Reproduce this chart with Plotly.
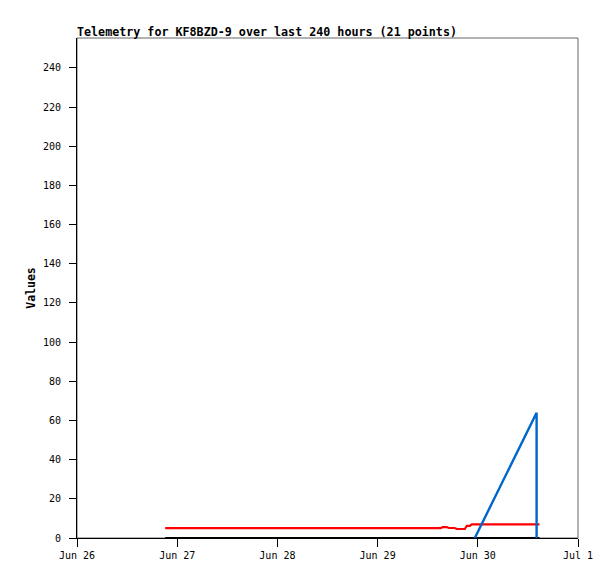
import plotly.graph_objects as go

# Series data (timestamps)
black_t = ["2024-06-26 21:07", "2024-06-30 14:46"]
black_v = [0, 0]

red_t = ["2024-06-26 21:07", "2024-06-29 15:07", "2024-06-29 15:36", "2024-06-29 16:34",
         "2024-06-29 17:02", "2024-06-29 18:29", "2024-06-29 18:58", "2024-06-29 20:53",
         "2024-06-29 21:22", "2024-06-29 22:05", "2024-06-29 22:34", "2024-06-30 14:46"]
red_v = [5, 5, 5.6, 5.6, 5.1, 5.1, 4.6, 4.6, 6.2, 6.2, 7, 7]

blue_t = ["2024-06-29 23:17", "2024-06-30 14:05", "2024-06-30 14:05"]
blue_v = [0, 64, 0]

y_ticks = list(range(0, 241, 20))
x_range = ["2024-06-26", "2024-07-01"]
title_text = "Telemetry for KF8BZD-9 over last 240 hours (21 points)"

W, H = 607, 571
fig = go.Figure()
fig.add_trace(go.Scatter(x=red_t, y=red_v, mode="lines",
                         line=dict(color="#ff0000", width=2.2)))
fig.add_trace(go.Scatter(x=black_t, y=black_v, mode="lines",
                         line=dict(color="#000000", width=2.2)))
fig.add_trace(go.Scatter(x=blue_t, y=blue_v, mode="lines",
                         line=dict(color="#0066cc", width=2.4)))

mono = "DejaVu Sans Mono"
fig.update_layout(
    width=W, height=H,
    margin=dict(l=69, r=37, t=30, b=41),
    paper_bgcolor="white", plot_bgcolor="white",
    showlegend=False,
    title=dict(text="<b>" + title_text + "</b>", x=69 / W, xref="container",
               xanchor="left", y=1 - 24 / H, yref="container", yanchor="middle",
               font=dict(family=mono, size=11.7, color="black")),
    font=dict(family=mono, size=10, color="black"),
    shapes=[dict(type="rect", xref="paper", yref="paper", x0=0, y0=0, x1=1, y1=1,
                 line=dict(color="#666666", width=1), layer="below")],
)
fig.update_xaxes(type="date", range=x_range, dtick=86400000, tickformat="%b %-d",
                 showgrid=False, zeroline=False, showline=True, linecolor="black",
                 linewidth=1, ticks="outside", ticklen=8, tickcolor="black",
                 tickfont=dict(family=mono, size=10))
fig.update_yaxes(range=[0, 255.3], tickvals=y_ticks, showgrid=False, zeroline=False,
                 showline=True, linecolor="black", linewidth=1, ticks="outside",
                 ticklen=7, tickcolor="black", tickfont=dict(family=mono, size=10),
                 ticklabelstandoff=6,
                 title=dict(text="<b>Values</b>", standoff=4,
                            font=dict(family=mono, size=11.5)))

fig.write_html("out.html")
